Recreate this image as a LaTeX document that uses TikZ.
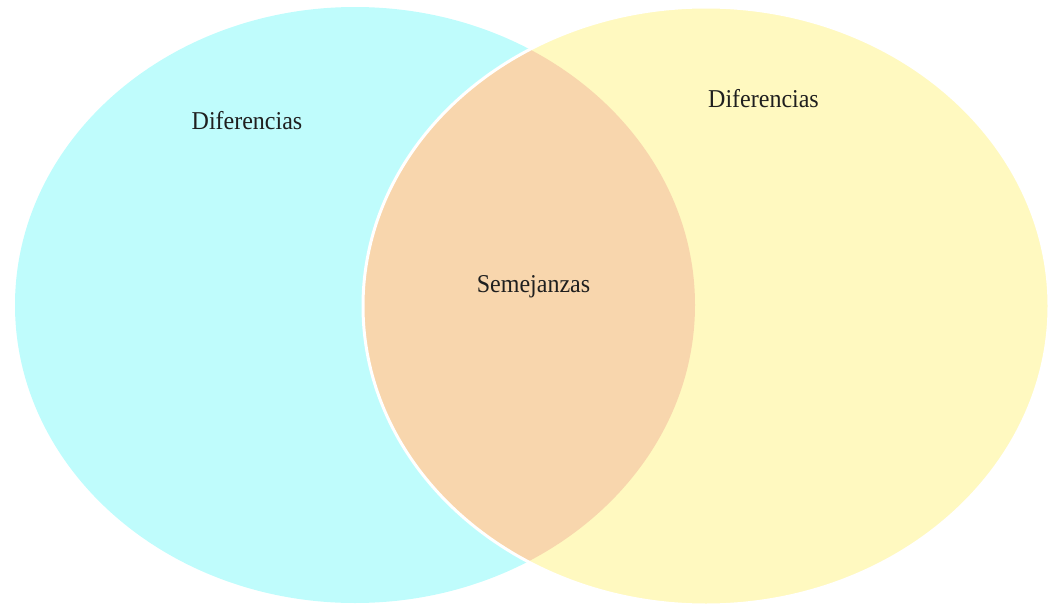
\documentclass[tikz,border=0pt]{standalone}
\usepackage{fontspec}
\setmainfont{Liberation Serif}
\definecolor{cyanfill}{HTML}{BFFCFC}
\definecolor{yellowfill}{HTML}{FFF9C0}
\definecolor{orangefill}{HTML}{F8D6AD}
\newcommand{\tallish}[1]{\scalebox{1}[1.07]{#1}}
\begin{document}
\begin{tikzpicture}[x=1pt,y=-1pt,
  lbl/.style={inner sep=0pt, anchor=base, text=black!88, font=\fontsize{24}{28}\selectfont}]
\useasboundingbox (0,0) rectangle (1050,605);
\fill[cyanfill] (355,305) ellipse [x radius=340, y radius=298];
\fill[yellowfill] (706,306) ellipse [x radius=343, y radius=299];
\begin{scope}
  \clip (355,305) ellipse [x radius=340, y radius=298];
  \fill[orangefill] (706,306) ellipse [x radius=343, y radius=299];
\end{scope}
\draw[white, line width=3] (706,306) ellipse [x radius=343, y radius=299];
\node[lbl] (dl) at (247,129) {\tallish{Diferencias}};
\node[lbl] (dr) at (763.5,107) {\tallish{Diferencias}};
\node[lbl] (sm) at (533.5,292) {\tallish{Semejanzas}};
\end{tikzpicture}
\end{document}
